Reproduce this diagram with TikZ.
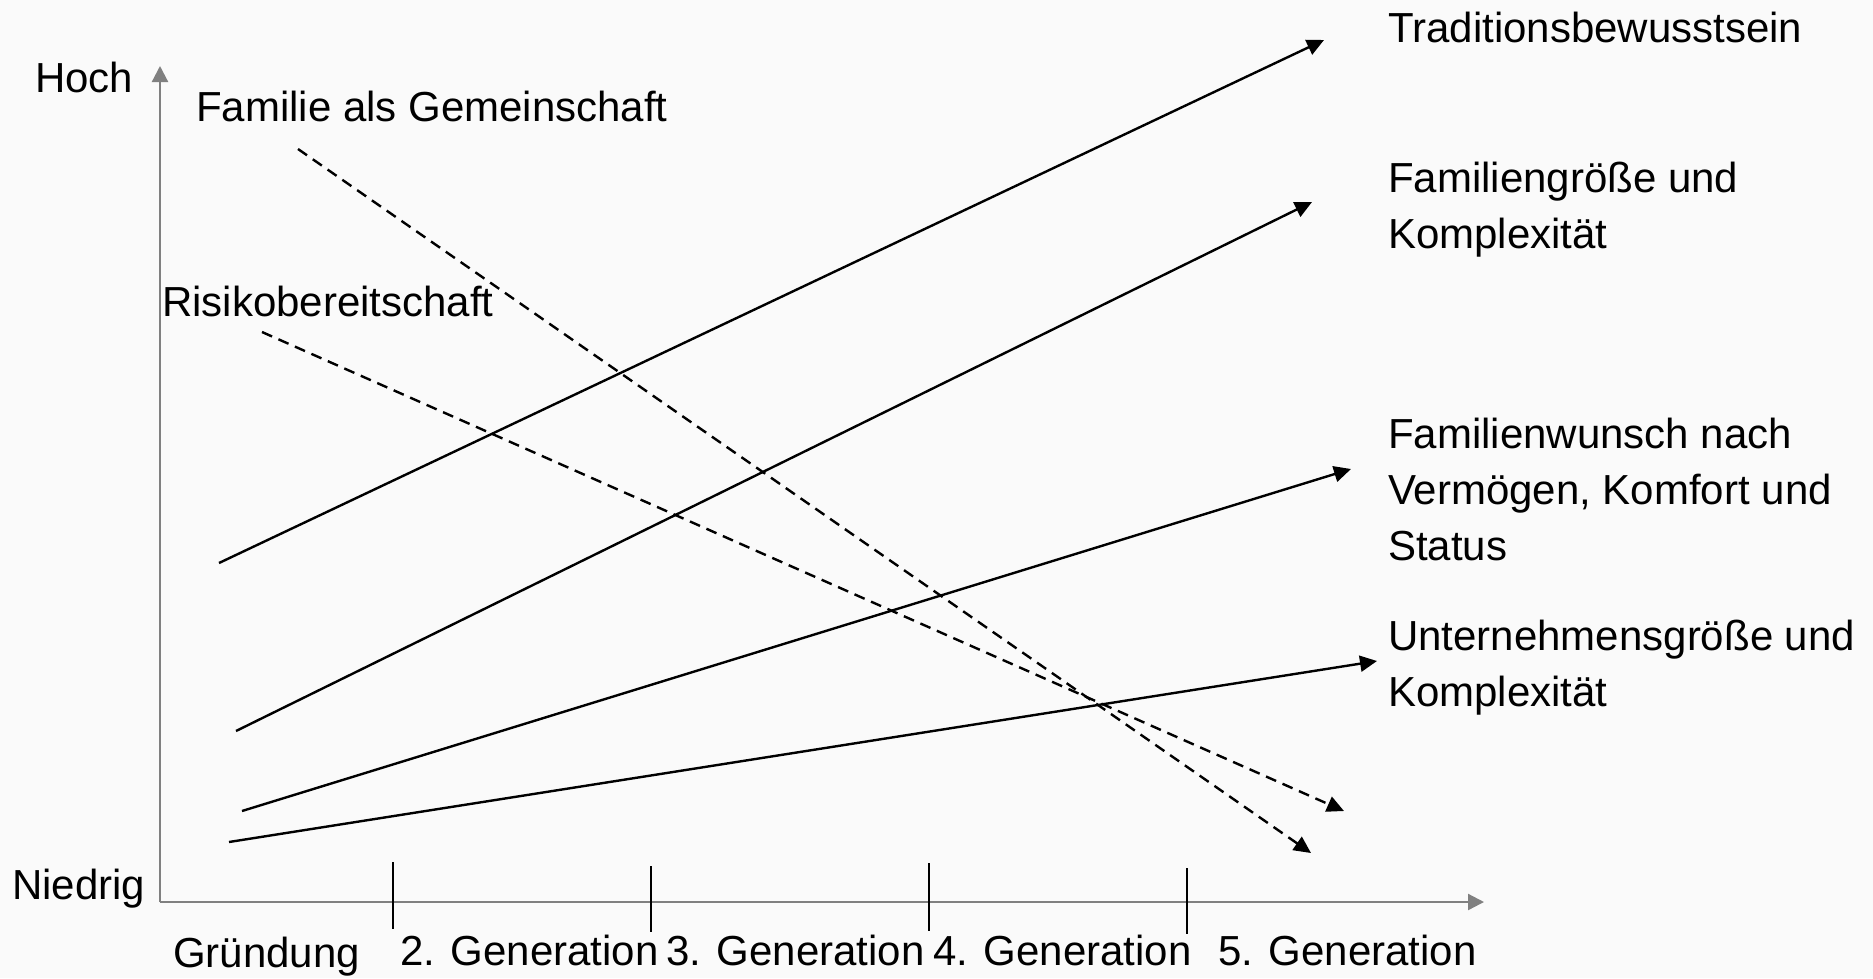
\documentclass[tikz,border=0pt]{standalone}
\usepackage{fontspec}
\setmainfont{Liberation Sans}
\usetikzlibrary{arrows.meta}
\definecolor{bgcol}{HTML}{FAFAFA}
\definecolor{axisgray}{HTML}{808080}

\begin{document}
\begin{tikzpicture}[x=1pt,y=-1pt,
  lbl/.style={anchor=base west, inner sep=0pt, font=\fontsize{42}{56}\selectfont, align=left},
  trend/.style={line width=2.4pt, -{Triangle[length=17pt,width=16pt]}},
  fall/.style={trend, dash pattern=on 11pt off 7pt},
  axisline/.style={draw=axisgray, line width=2.2pt, -{Triangle[length=16pt,width=16pt]}},
  gentick/.style={line width=2pt}]

% canvas
\fill[bgcol] (0,0) rectangle (1873,978);
\useasboundingbox (0,0) rectangle (1873,978);

% axes
\coordinate (O) at (160,902);
\coordinate (ytop) at (160,66);
\coordinate (xend) at (1484,902);
\draw[axisline] (O) -- (ytop);
\draw[axisline] (O) -- (xend);

% generation ticks
\coordinate (t1a) at (393,862);  \coordinate (t1b) at (393,929);
\coordinate (t2a) at (651,866);  \coordinate (t2b) at (651,932);
\coordinate (t3a) at (929,863);  \coordinate (t3b) at (929,931);
\coordinate (t4a) at (1187,868); \coordinate (t4b) at (1187,934);
\draw[gentick] (t1a) -- (t1b);
\draw[gentick] (t2a) -- (t2b);
\draw[gentick] (t3a) -- (t3b);
\draw[gentick] (t4a) -- (t4b);

% axis labels
\node[lbl] (hoch) at (35,92) {Hoch};
\node[lbl] (niedrig) at (12,899) {Niedrig};
\node[lbl] (g1) at (173,967) {Gründung};
\node[lbl] (g2) at (400,965) {2. Generation};
\node[lbl] (g3) at (666,965) {3. Generation};
\node[lbl] (g4) at (933,965) {4. Generation};
\node[lbl] (g5) at (1218,965) {5. Generation};

% rising trends
\coordinate (a1) at (219,563);  \coordinate (b1) at (1324,40);
\coordinate (a2) at (236,731);  \coordinate (b2) at (1312,202);
\coordinate (a3) at (242,811);  \coordinate (b3) at (1351,469);
\coordinate (a4) at (229,842);  \coordinate (b4) at (1377,661);
\draw[trend] (a1) -- (b1);
\draw[trend] (a2) -- (b2);
\draw[trend] (a3) -- (b3);
\draw[trend] (a4) -- (b4);

% falling trends
\coordinate (a5) at (298,149);  \coordinate (b5) at (1311,853);
\coordinate (a6) at (262,332);  \coordinate (b6) at (1344,811);
\draw[fall] (a5) -- (b5);
\draw[fall] (a6) -- (b6);

% trend labels (multi-line nodes sit on the baseline of their last line)
\node[lbl] (tradition) at (1388,42) {Traditionsbewusstsein};
\node[lbl] (famgroesse) at (1388,248) {Familiengröße und\\Komplexität};
\node[lbl] (famwunsch) at (1388,560) {Familienwunsch nach\\Vermögen, Komfort und\\Status};
\node[lbl] (untgroesse) at (1388,706) {Unternehmensgröße und\\Komplexität};
\node[lbl] (gemeinschaft) at (196,121) {Familie als Gemeinschaft};
\node[lbl] (risiko) at (162,316) {Risikobereitschaft};
\end{tikzpicture}
\end{document}
